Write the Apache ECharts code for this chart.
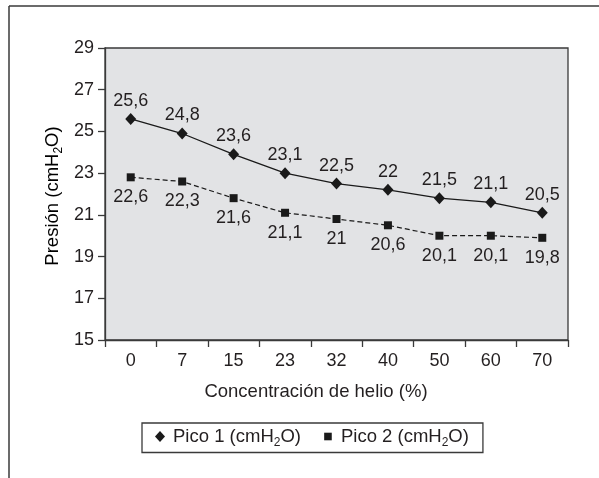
<!DOCTYPE html>
<html>
<head>
<meta charset="utf-8">
<script src="https://cdn.jsdelivr.net/npm/echarts@6/dist/echarts.min.js"></script>
<style>
html,body{margin:0;padding:0;background:#fff;}
#c{width:599px;height:478px;}
</style>
</head>
<body>
<div id="c"></div>
<script>
var categories = ['0','7','15','23','32','40','50','60','70'];
var pico1Values = [25.6, 24.9, 23.9, 23.0, 22.5, 22.2, 21.8, 21.6, 21.1];
var pico1Labels = ['25,6','24,8','23,6','23,1','22,5','22','21,5','21,1','20,5'];
var pico2Values = [22.8, 22.6, 21.8, 21.1, 20.8, 20.5, 20.0, 20.0, 19.9];
var pico2Labels = ['22,6','22,3','21,6','21,1','21','20,6','20,1','20,1','19,8'];
var yTicks = {min: 15, max: 29, interval: 2};

var FONT = '"Liberation Sans", Arial, Helvetica, sans-serif';
var TXT = '#231f20';
var FS = 18;
var chart = echarts.init(document.getElementById('c'), null, {renderer: 'canvas'});

var subRich = {
  n: {fontSize: 18.5, fontFamily: FONT, color: TXT, lineHeight: 24, verticalAlign: 'middle'},
  s: {fontSize: 12, fontFamily: FONT, color: TXT, lineHeight: 24, verticalAlign: 'bottom'}
};

chart.setOption({
  animation: false,
  backgroundColor: '#fff',
  textStyle: {fontFamily: FONT, color: TXT},
  grid: {
    left: 105, top: 48, right: 31, bottom: 138,
    show: true, backgroundColor: '#e2e3e5', borderColor: '#3a3a3a', borderWidth: 1.3
  },
  xAxis: {
    type: 'category',
    data: categories,
    boundaryGap: true,
    axisLine: {lineStyle: {color: '#3a3a3a', width: 1.3}},
    axisTick: {show: true, length: 7, alignWithLabel: false, interval: 0, lineStyle: {color: '#3a3a3a', width: 1.3}},
    axisLabel: {fontSize: FS, color: TXT, fontFamily: FONT, margin: 12, interval: 0},
    splitLine: {show: false}
  },
  yAxis: {
    type: 'value',
    min: yTicks.min, max: yTicks.max, interval: yTicks.interval,
    axisLine: {show: true, lineStyle: {color: '#3a3a3a', width: 1.3}},
    axisTick: {show: true, length: 7, lineStyle: {color: '#3a3a3a', width: 1.3}},
    axisLabel: {fontSize: FS, color: TXT, fontFamily: FONT, margin: 11},
    splitLine: {show: false}
  },
  legend: {
    left: 142, top: 423,
    padding: [4, 14, 4, 13],
    itemGap: 22,
    itemWidth: 10, itemHeight: 11,
    borderColor: '#3a3a3a', borderWidth: 1.3, backgroundColor: '#fff',
    data: [
      {name: 'Pico 1', icon: 'diamond'},
      {name: 'Pico 2', icon: 'path://M0,0M10,10M1.2,1.2h7.6v7.6h-7.6z'}
    ],
    formatter: function (name) { return '{n|' + name + ' (cmH}{s|2}{n|O)}'; },
    textStyle: {rich: subRich, padding: [0, 0, 0, 3]}
  },
  graphic: [
    {type: 'line', shape: {x1: 9, y1: 6, x2: 599, y2: 6}, style: {stroke: '#3a3a3a', lineWidth: 1.5}},
    {type: 'line', shape: {x1: 9, y1: 6, x2: 9, y2: 478}, style: {stroke: '#3a3a3a', lineWidth: 1.5}},
    {type: 'text', x: 316, y: 392, style: {text: 'Concentración de helio (%)', font: '18.5px ' + FONT, fill: TXT, align: 'center', verticalAlign: 'middle'}},
    {type: 'text', x: 53, y: 196, rotation: Math.PI / 2,
     style: {text: '{n|Presión (cmH}{s|2}{n|O)}', rich: subRich, align: 'center', verticalAlign: 'middle'}}
  ],
  series: [
    {
      name: 'Pico 1', type: 'line', data: pico1Values,
      symbol: 'diamond', symbolSize: [11, 12],
      itemStyle: {color: '#1a1a1a'},
      lineStyle: {color: '#1a1a1a', width: 1.3},
      label: {show: true, position: 'top', distance: 3, fontSize: FS, color: TXT, fontFamily: FONT,
        formatter: function (p) { return pico1Labels[p.dataIndex]; }}
    },
    {
      name: 'Pico 2', type: 'line', data: pico2Values,
      symbol: 'rect', symbolSize: 8,
      itemStyle: {color: '#1a1a1a'},
      lineStyle: {color: '#1a1a1a', width: 1.2, type: [5, 3]},
      label: {show: true, position: 'bottom', distance: 7, fontSize: FS, color: TXT, fontFamily: FONT,
        formatter: function (p) { return pico2Labels[p.dataIndex]; }}
    }
  ]
});
</script>
</body>
</html>
